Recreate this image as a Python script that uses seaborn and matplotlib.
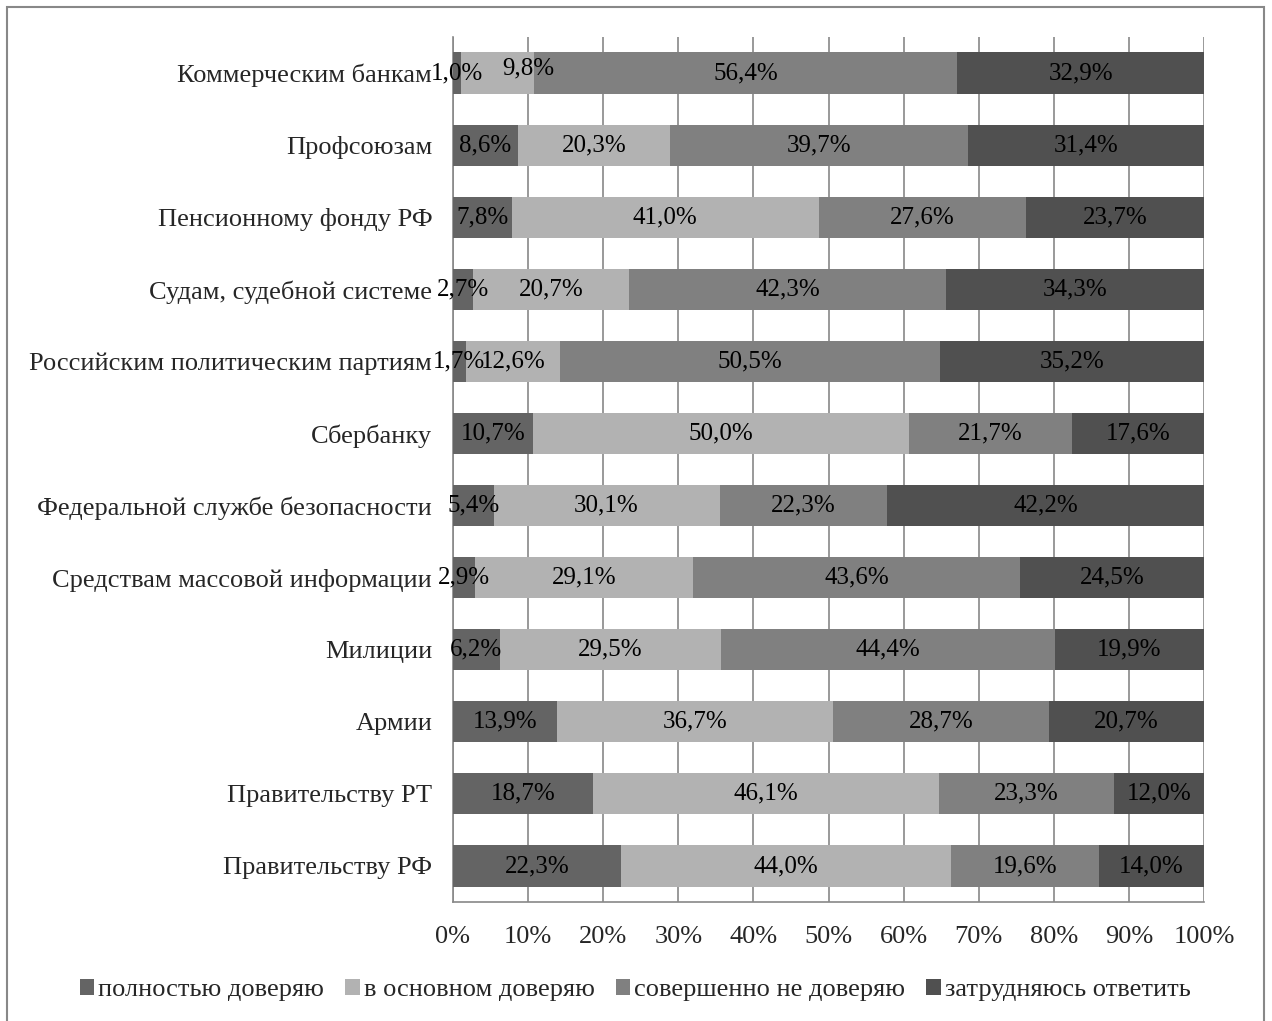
import numpy as np
import pandas as pd
import seaborn as sns
import matplotlib.pyplot as plt
from matplotlib.patches import Patch, Rectangle

categories = [
    "Коммерческим банкам",
    "Профсоюзам",
    "Пенсионному фонду РФ",
    "Судам, судебной системе",
    "Российским политическим партиям",
    "Сбербанку",
    "Федеральной службе безопасности",
    "Средствам массовой информации",
    "Милиции",
    "Армии",
    "Правительству РТ",
    "Правительству РФ",
]
series = ["полностью доверяю", "в основном доверяю",
          "совершенно не доверяю", "затрудняюсь ответить"]
full_trust = [1.0, 8.6, 7.8, 2.7, 1.7, 10.7, 5.4, 2.9, 6.2, 13.9, 18.7, 22.3]
mostly_trust = [9.8, 20.3, 41.0, 20.7, 12.6, 50.0, 30.1, 29.1, 29.5, 36.7, 46.1, 44.0]
no_trust = [56.4, 39.7, 27.6, 42.3, 50.5, 21.7, 22.3, 43.6, 44.4, 28.7, 23.3, 19.6]
hard_to_say = [32.9, 31.4, 23.7, 34.3, 35.2, 17.6, 42.2, 24.5, 19.9, 20.7, 12.0, 14.0]
colors = ["#646464", "#b2b2b2", "#808080", "#505050"]

sns.set_style("white")
plt.rcParams["font.family"] = ["Liberation Serif", "DejaVu Serif"]

vals = np.array([full_trust, mostly_trust, no_trust, hard_to_say])
shares = vals / vals.sum(axis=0)
cum = np.cumsum(shares, axis=0)

fig = plt.figure(figsize=(12.72, 10.21), dpi=100)
ax = fig.add_axes([453 / 1272, 1 - 902 / 1021, (1204 - 453) / 1272, (902 - 37) / 1021])

# overlay cumulative bars, widest first
for i in range(3, -1, -1):
    df = pd.DataFrame({"cat": categories, "val": cum[i]})
    sns.barplot(data=df, y="cat", x="val", color=colors[i], saturation=1,
                width=0.57, orient="h", ax=ax, zorder=3, linewidth=0)

font_size = 19
# label that was nudged by hand in the original (9,8% for banks)
nudged = {(1, 0): (22, 3.5)}
for i in range(4):
    for j, cat in enumerate(categories):
        left = cum[i][j] - shares[i][j]
        ax.annotate(f"{vals[i][j]:.1f}%".replace(".", ","),
                    (left + shares[i][j] / 2, j), xytext=nudged.get((i, j), (0, 0)),
                    textcoords="offset points", ha="center", va="center",
                    fontsize=18, color="black", zorder=5)

ax.set_xlim(0, 1)
ax.set_ylim(11.5, -0.5)
ax.set_xticks(np.arange(0, 1.01, 0.1))
ax.set_xticklabels([f"{int(round(t * 100))}%" for t in np.arange(0, 1.01, 0.1)])
ax.set_xlabel("")
ax.set_ylabel("")
ax.tick_params(axis="x", labelsize=font_size, pad=17, length=0)
ax.tick_params(axis="y", labelsize=font_size, pad=15, length=0)
ax.xaxis.grid(True, color="#888888", linewidth=1.2, zorder=0)
ax.set_axisbelow(True)
for side in ["top", "right"]:
    ax.spines[side].set_visible(False)
for side in ["left", "bottom"]:
    ax.spines[side].set_color("#888888")
    ax.spines[side].set_linewidth(1.2)

handles = [Patch(facecolor=c, edgecolor="none") for c in colors]
fig.legend(handles, series, loc="center", bbox_to_anchor=(635 / 1272, 1 - 990 / 1021),
           ncol=4, frameon=False, fontsize=font_size, handlelength=0.55, handleheight=0.55,
           handletextpad=0.15, columnspacing=0.8)

fig.add_artist(Rectangle((7 / 1272, -0.01), (1264 - 7) / 1272, 1.01 - 7 / 1021,
                         transform=fig.transFigure, fill=False,
                         edgecolor="#888888", linewidth=1.5))

fig.savefig("out.png", dpi=100)
